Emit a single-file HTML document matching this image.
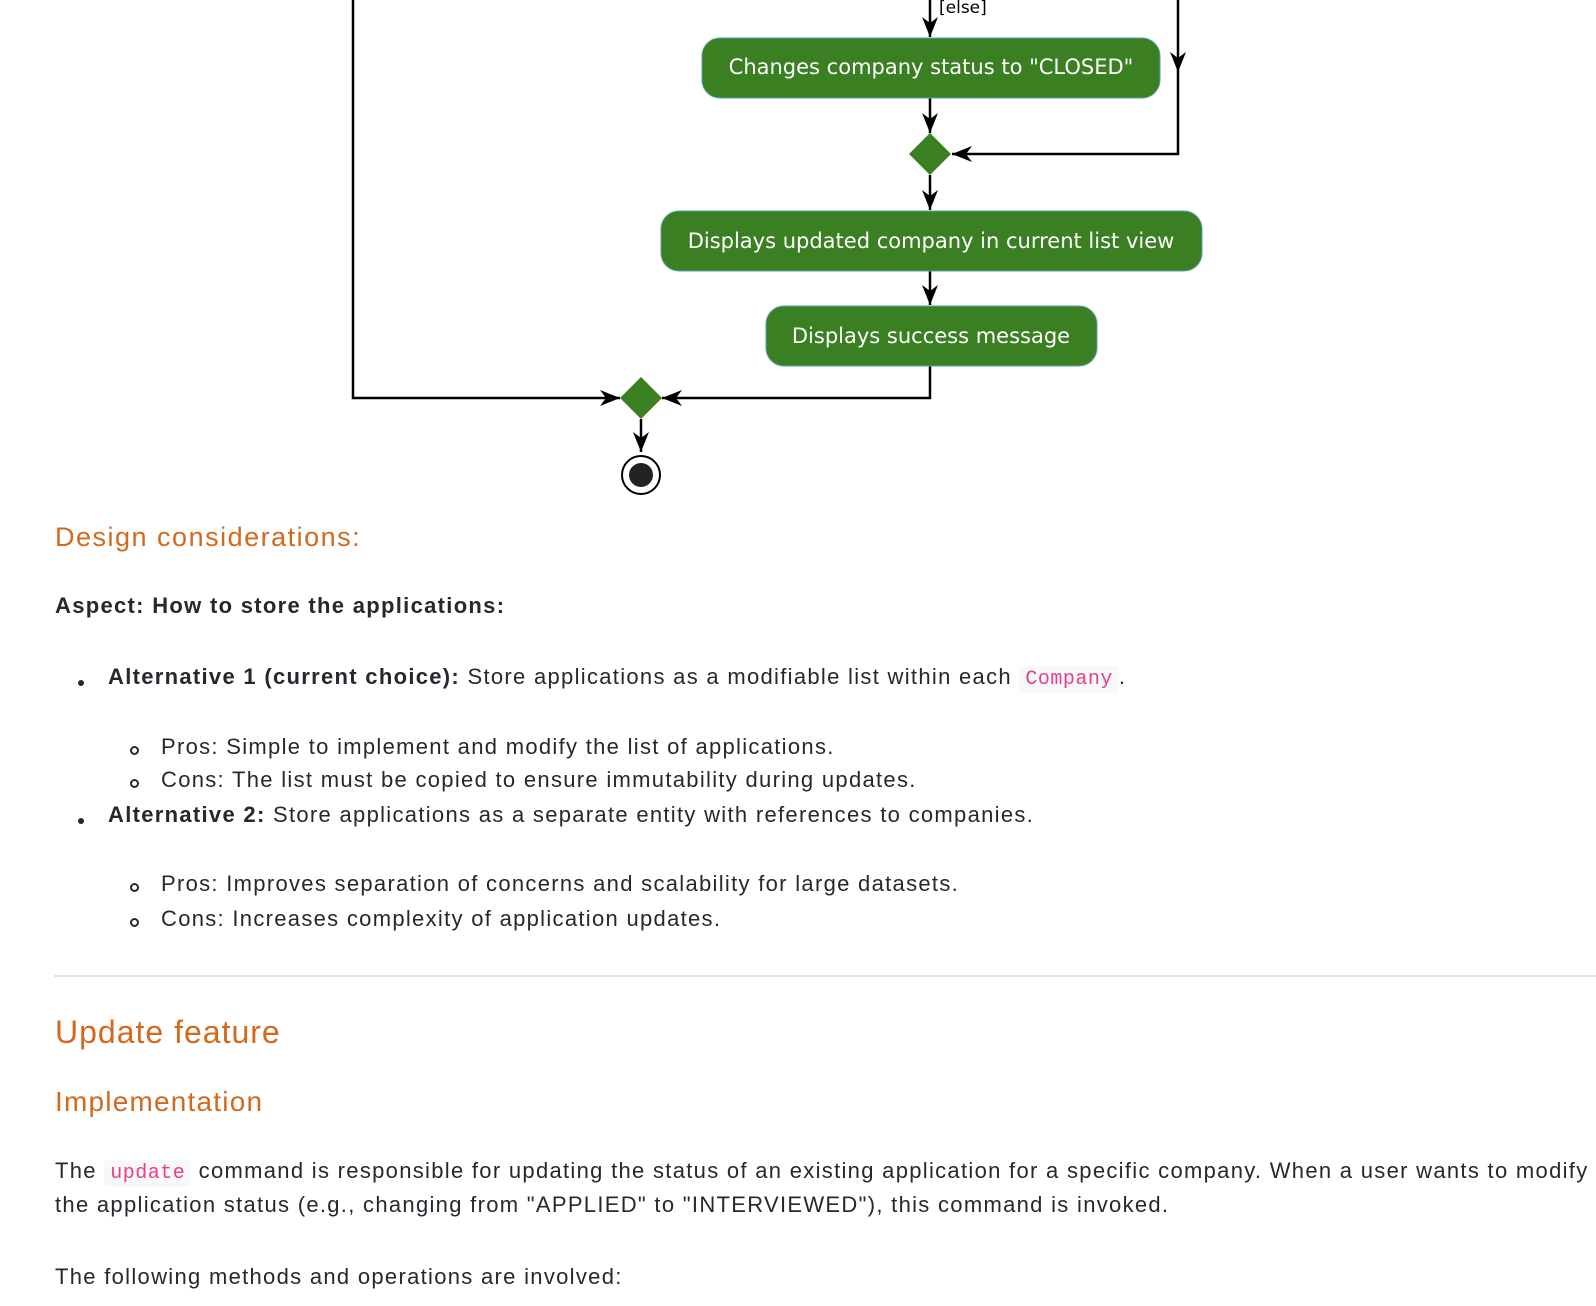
<!DOCTYPE html>
<html><head><meta charset="utf-8"><style>
body{margin:0;width:1596px;height:1306px;background:#fff;position:relative;overflow:hidden;font-family:"Liberation Sans",sans-serif;color:#24292e}
.t{position:absolute;white-space:nowrap;font-size:22px;line-height:30px;letter-spacing:1.3px}
.h{color:#d2691e;position:absolute;white-space:nowrap;letter-spacing:1.5px}
code{font-family:"Liberation Mono",monospace;color:#e83e8c;background:#f6f8fa;border-radius:4px;padding:2px 6px;font-size:20px;letter-spacing:0.5px}
.dot{position:absolute;width:6px;height:6px;border-radius:50%;background:#24292e}
.circ{position:absolute;width:5px;height:5px;border-radius:50%;border:2px solid #24292e}
</style></head><body>
<svg width="1596" height="500" style="position:absolute;left:0;top:0" font-family="DejaVu Sans, sans-serif">
<defs><marker id="a" viewBox="0 0 20 20" refX="20" refY="10" markerWidth="20" markerHeight="20" markerUnits="userSpaceOnUse" orient="auto"><path d="M0,2 L20,10 L0,18 L6,10 Z" fill="#000"/></marker></defs>
<g stroke="#000" stroke-width="2.5" fill="none">
<line x1="930" y1="0" x2="930" y2="37" marker-end="url(#a)"/>
<line x1="1178" y1="0" x2="1178" y2="72" marker-end="url(#a)"/>
<polyline points="1178,72 1178,154 952,154" marker-end="url(#a)"/>
<line x1="930" y1="98" x2="930" y2="133" marker-end="url(#a)"/>
<line x1="930" y1="175" x2="930" y2="210" marker-end="url(#a)"/>
<line x1="930" y1="271" x2="930" y2="305" marker-end="url(#a)"/>
<polyline points="353,0 353,398 620,398" marker-end="url(#a)"/>
<polyline points="930,366 930,398 662,398" marker-end="url(#a)"/>
<line x1="641" y1="419" x2="641" y2="452" marker-end="url(#a)"/>
</g>
<text x="939" y="13" font-size="17" fill="#000">[else]</text>
<g fill="#3a7f22" stroke="#5aa0a8" stroke-width="1">
<rect x="702" y="38" width="458" height="60" rx="18"/>
<rect x="661" y="211" width="541" height="60" rx="18"/>
<rect x="766" y="306" width="331" height="60" rx="18"/>
</g>
<polygon points="930,133 951,154 930,175 909,154" fill="#3a7f22"/>
<polygon points="641,377 662,398 641,419 620,398" fill="#3a7f22"/>
<circle cx="641" cy="475" r="19" fill="#fff" stroke="#000" stroke-width="2"/>
<circle cx="641" cy="475" r="12" fill="#222"/>
<g fill="#fff" font-size="21" text-anchor="middle">
<text x="931" y="74">Changes company status to "CLOSED"</text>
<text x="931" y="248">Displays updated company in current list view</text>
<text x="931" y="343">Displays success message</text>
</g>
</svg>
<div class="h" style="left:55px;top:520px;font-size:27px;line-height:34px">Design considerations:</div>
<div class="t" style="left:55px;top:591px;font-weight:bold">Aspect: How to store the applications:</div>
<div class="dot" style="left:78px;top:680px"></div>
<div class="t" style="left:108px;top:662px"><b>Alternative 1 (current choice):</b> Store applications as a modifiable list within each <code>Company</code>.</div>
<div class="circ" style="left:130px;top:746px"></div>
<div class="t" style="left:161px;top:732px">Pros: Simple to implement and modify the list of applications.</div>
<div class="circ" style="left:130px;top:779px"></div>
<div class="t" style="left:161px;top:765px">Cons: The list must be copied to ensure immutability during updates.</div>
<div class="dot" style="left:78px;top:818px"></div>
<div class="t" style="left:108px;top:800px"><b>Alternative 2:</b> Store applications as a separate entity with references to companies.</div>
<div class="circ" style="left:130px;top:883px"></div>
<div class="t" style="left:161px;top:869px">Pros: Improves separation of concerns and scalability for large datasets.</div>
<div class="circ" style="left:130px;top:918px"></div>
<div class="t" style="left:161px;top:904px">Cons: Increases complexity of application updates.</div>
<div style="position:absolute;left:54px;top:975px;width:1542px;height:2px;background:#e5e5e5"></div>
<div class="h" style="left:55px;top:1012px;font-size:32px;line-height:40px;letter-spacing:1px">Update feature</div>
<div class="h" style="left:55px;top:1084px;font-size:28px;line-height:36px;letter-spacing:1.2px">Implementation</div>
<div class="t" style="left:55px;top:1156px">The <code>update</code> command is responsible for updating the status of an existing application for a specific company. When a user wants to modify</div>
<div class="t" style="left:55px;top:1190px">the application status (e.g., changing from "APPLIED" to "INTERVIEWED"), this command is invoked.</div>
<div class="t" style="left:55px;top:1262px">The following methods and operations are involved:</div>
</body></html>
